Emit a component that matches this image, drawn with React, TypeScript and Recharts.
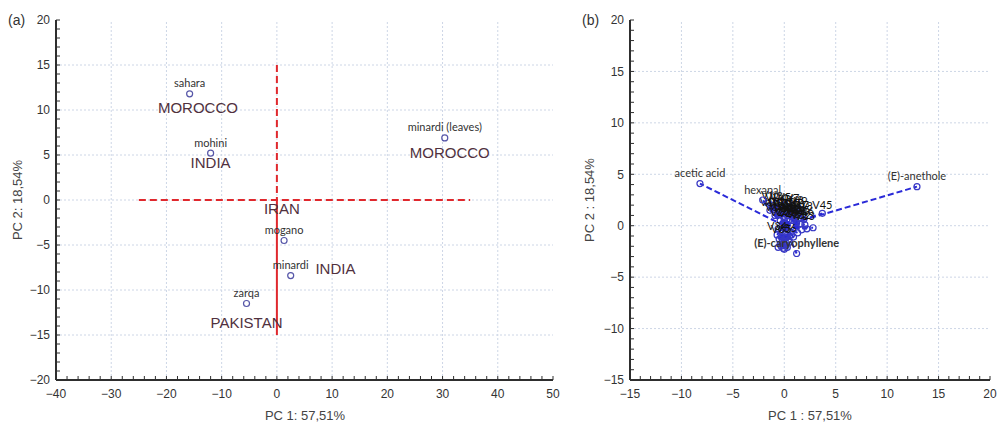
import React from 'react';
import { ScatterChart, Scatter, XAxis, YAxis, ReferenceLine } from 'recharts';

// ---------- Panel (a): PCA scores ----------
const scoreNames = ['sahara', 'mohini', 'minardi (leaves)', 'mogano', 'minardi', 'zarqa'];
const scorePC1 = [-15.8, -12.0, 30.4, 1.3, 2.5, -5.5];
const scorePC2 = [11.8, 5.2, 6.9, -4.5, -8.4, -11.5];

const countryNames = ['MOROCCO', 'INDIA', 'MOROCCO', 'IRAN', 'INDIA', 'PAKISTAN'];
const countryPC1 = [-14.3, -12.0, 31.3, 0.9, 10.6, -5.5];
const countryPC2 = [10.3, 4.2, 5.3, -0.9, -7.6, -13.6];

const aTicksX = [-40, -30, -20, -10, 0, 10, 20, 30, 40, 50];
const aTicksY = [-20, -15, -10, -5, 0, 5, 10, 15, 20];

// ---------- Panel (b): PCA loadings ----------
const loadingNames = ['acetic acid', '(E)-anethole', 'hexanal', '(E)-caryophyllene'];
const loadingPC1 = [-8.2, 12.9, -2.1, 1.2];
const loadingPC2 = [4.1, 3.8, 2.5, -2.7];

// labelled variables of the dense cluster (labels overlap as in the original)
const clusterNames = [
  'V1', 'V2', 'V3', 'V4', 'V5', 'V6', 'V7', 'V8', 'V9', 'V10',
  'V11', 'V12', 'V13', 'V14', 'V15', 'V16', 'V17', 'V18', 'V19', 'V20',
  'V21', 'V22', 'V23', 'V24', 'V25', 'V26', 'V27', 'V28', 'V29', 'V30',
  'V31', 'V32', 'V33', 'V34', 'V35', 'V36', 'V45',
];
const clusterPC1 = [
  -1.6, -1.2, -0.8, -0.4, 0.0, 0.4, 0.8, 1.2, 1.6, -1.4,
  -1.0, -0.6, -0.2, 0.2, 0.6, 1.0, 1.4, 1.8, -0.9, -0.5,
  -0.1, 0.3, 0.7, 1.1, 1.5, 1.9, -0.4, 0.0, 0.4, 0.8,
  1.2, 1.6, 2.0, -0.7, -0.3, 0.2, 3.7,
];
const clusterPC2 = [
  2.2, 2.0, 2.1, 1.9, 2.0, 1.8, 1.9, 1.7, 1.6, 1.5,
  1.6, 1.4, 1.5, 1.3, 1.4, 1.3, 1.2, 1.1, 1.0, 1.1,
  0.9, 1.0, 0.9, 0.8, 0.7, 0.6, 0.5, 0.6, 0.4, 0.5,
  0.3, 0.2, 0.1, -0.9, -1.1, -1.0, 1.2,
];

// unlabelled variables near the origin (lower part of the fan)
const lowerPC1 = [
  -0.6, -0.3, 0.0, 0.3, 0.6, -0.5, -0.2, 0.1, 0.4, 0.7,
  -0.4, -0.1, 0.2, 0.5, 0.9, 1.3, 1.7, 2.2, 2.8, -0.3,
  0.0, 0.3, -0.6, -0.1, 0.2,
];
const lowerPC2 = [
  -0.3, -0.5, -0.2, -0.4, -0.6, -1.3, -1.5, -1.2, -1.4, -0.9,
  -1.8, -1.9, -1.7, -1.6, -1.1, -0.7, -0.4, -0.3, -0.2, -2.0,
  -2.3, -2.1, -2.1, -2.2, -1.9,
];

const bTicksX = [-15, -10, -5, 0, 5, 10, 15, 20];
const bTicksY = [-15, -10, -5, 0, 5, 10, 15, 20];

// ---------- helpers ----------
const range = (lo: number, hi: number, step: number) => {
  const r: number[] = [];
  for (let v = lo; v <= hi + 1e-9; v += step) r.push(Math.round(v * 1000) / 1000);
  return r;
};
const fmt = (major: number[]) => (v: number) =>
  major.includes(v) ? (v < 0 ? '\u2212' + Math.abs(v) : String(v)) : '';

const scoreData = scoreNames.map((name, i) => ({ name, x: scorePC1[i], y: scorePC2[i] }));
const countryData = countryNames.map((name, i) => ({ name, x: countryPC1[i], y: countryPC2[i] }));
const loadingData = loadingNames.map((name, i) => ({ name, x: loadingPC1[i], y: loadingPC2[i] }));
const clusterData = clusterNames.map((name, i) => ({ name, x: clusterPC1[i], y: clusterPC2[i] }));
const lowerData = lowerPC1.map((x, i) => ({ name: '', x, y: lowerPC2[i] }));
const allLoadings = [...lowerData, ...clusterData, ...loadingData];

const TICK_FONT = { fontFamily: 'Liberation Sans, Arial, sans-serif', fontSize: 12, fill: '#333' };
const LABEL_FONT = 'Lato, "Open Sans", sans-serif';
const FRAME = '#2e2e2e';
const GRID = '#cdd6e6';

const ScorePoint = (props: any) => {
  const { cx, cy, payload } = props;
  return (
    <g>
      <circle cx={cx} cy={cy} r={3} fill="none" stroke="#5656a8" strokeWidth={1.2} />
      <text x={cx} y={cy - 11} textAnchor="middle" dominantBaseline="central"
        fontFamily={LABEL_FONT} fontSize={11} fill="#333">{payload.name}</text>
    </g>
  );
};

const CountryLabel = (props: any) => {
  const { cx, cy, payload } = props;
  return (
    <text x={cx} y={cy} textAnchor="middle" dominantBaseline="central"
      fontFamily="Liberation Sans, Arial, sans-serif" fontSize={15} fill="#50313e">{payload.name}</text>
  );
};

const LoadingPoint = (props: any) => {
  const { cx, cy, payload } = props;
  const bold = payload.name === '(E)-caryophyllene';
  return (
    <g>
      <circle cx={cx} cy={cy} r={3} fill="none" stroke="#3838c4" strokeWidth={1.2} />
      <text x={cx} y={cy - 11} textAnchor="middle" dominantBaseline="central"
        fontFamily={LABEL_FONT} fontSize={11} fontWeight={bold ? 700 : 400} fill="#333">{payload.name}</text>
    </g>
  );
};

const ClusterPoint = (props: any) => {
  const { cx, cy, payload } = props;
  return (
    <g>
      <circle cx={cx} cy={cy} r={3} fill="none" stroke="#3838c4" strokeWidth={1.2} />
      {payload.name ? (
        <text x={cx} y={cy - 9} textAnchor="middle" dominantBaseline="central"
          fontFamily={LABEL_FONT} fontSize={11} fill="#111">{payload.name}</text>
      ) : null}
    </g>
  );
};

const textDiv = (text: string, left: number, top: number, extra: React.CSSProperties = {}) => (
  <div style={{
    position: 'absolute', left, top, fontFamily: 'Liberation Sans, Arial, sans-serif',
    fontSize: 13, color: '#444', whiteSpace: 'nowrap', lineHeight: '16px', ...extra,
  }}>{text}</div>
);

export default function App() {
  const aMinorX = range(-40, 50, 2);
  const aMinorY = range(-20, 20, 1);
  const bMinorX = range(-15, 20, 1);
  const bMinorY = range(-15, 20, 1);
  const axisLine = { stroke: FRAME, strokeWidth: 2 };

  return (
    <div style={{ position: 'absolute', left: 0, top: 0, width: 997, height: 423, background: '#fff' }}>
      {/* Panel (a) */}
      <div style={{ position: 'absolute', left: 0, top: 0 }}>
        <ScatterChart width={560} height={423} margin={{ top: 20, right: 7, bottom: 0, left: 0 }}>
          <XAxis type="number" dataKey="x" domain={[-40, 50]} ticks={aMinorX} interval={0}
            tickFormatter={fmt(aTicksX)} tickSize={-4} tickMargin={13} height={43}
            tick={TICK_FONT} tickLine={{ stroke: FRAME }} axisLine={axisLine} allowDataOverflow />
          <YAxis type="number" dataKey="y" domain={[-20, 20]} ticks={aMinorY} interval={0}
            tickFormatter={fmt(aTicksY)} tickSize={-4} tickMargin={10} width={56}
            tick={TICK_FONT} tickLine={{ stroke: FRAME }} axisLine={axisLine} allowDataOverflow />
          <XAxis xAxisId="top" orientation="top" type="number" domain={[-40, 50]} ticks={aMinorX} interval={0}
            tick={false} tickSize={-4} height={0} tickLine={{ stroke: FRAME }} axisLine={axisLine} allowDataOverflow />
          <YAxis yAxisId="right" orientation="right" type="number" domain={[-20, 20]} ticks={aMinorY} interval={0}
            tick={false} tickSize={-4} width={0} tickLine={{ stroke: FRAME }} axisLine={axisLine} allowDataOverflow />
          {aTicksX.slice(1, -1).map((v) => (
            <ReferenceLine key={'ax' + v} x={v} stroke={GRID} strokeDasharray="2 2" />
          ))}
          {aTicksY.slice(1, -1).map((v) => (
            <ReferenceLine key={'ay' + v} y={v} stroke={GRID} strokeDasharray="2 2" />
          ))}
          <ReferenceLine segment={[{ x: -25, y: 0 }, { x: 35, y: 0 }]} stroke="#e0282d" strokeWidth={2} strokeDasharray="7 4" />
          <ReferenceLine segment={[{ x: 0, y: 15 }, { x: 0, y: 0 }]} stroke="#e0282d" strokeWidth={2} strokeDasharray="7 4" />
          <ReferenceLine segment={[{ x: 0, y: 0 }, { x: 0, y: -15 }]} stroke="#e0282d" strokeWidth={2} />
          <Scatter data={countryData} shape={CountryLabel} isAnimationActive={false} />
          <Scatter data={scoreData} shape={ScorePoint} isAnimationActive={false} />
        </ScatterChart>
      </div>

      {/* Panel (b) */}
      <div style={{ position: 'absolute', left: 560, top: 0 }}>
        <ScatterChart width={437} height={423} margin={{ top: 20, right: 7, bottom: 0, left: 0 }}>
          <XAxis type="number" dataKey="x" domain={[-15, 20]} ticks={bMinorX} interval={0}
            tickFormatter={fmt(bTicksX)} tickSize={-4} tickMargin={13} height={43}
            tick={TICK_FONT} tickLine={{ stroke: FRAME }} axisLine={axisLine} allowDataOverflow />
          <YAxis type="number" dataKey="y" domain={[-15, 20]} ticks={bMinorY} interval={0}
            tickFormatter={fmt(bTicksY)} tickSize={-4} tickMargin={10} width={70}
            tick={TICK_FONT} tickLine={{ stroke: FRAME }} axisLine={axisLine} allowDataOverflow />
          <XAxis xAxisId="top" orientation="top" type="number" domain={[-15, 20]} ticks={bMinorX} interval={0}
            tick={false} tickSize={-4} height={0} tickLine={{ stroke: FRAME }} axisLine={axisLine} allowDataOverflow />
          <YAxis yAxisId="right" orientation="right" type="number" domain={[-15, 20]} ticks={bMinorY} interval={0}
            tick={false} tickSize={-4} width={0} tickLine={{ stroke: FRAME }} axisLine={axisLine} allowDataOverflow />
          {bTicksX.slice(1, -1).map((v) => (
            <ReferenceLine key={'bx' + v} x={v} stroke={GRID} strokeDasharray="2 2" />
          ))}
          {bTicksY.slice(1, -1).map((v) => (
            <ReferenceLine key={'by' + v} y={v} stroke={GRID} strokeDasharray="2 2" />
          ))}
          {allLoadings.map((d, i) => (
            <ReferenceLine key={'v' + i} segment={[{ x: 0, y: 0 }, { x: d.x, y: d.y }]}
              stroke="#2a2ad8" strokeWidth={2} strokeDasharray="6 3" />
          ))}
          <Scatter data={lowerData} shape={ClusterPoint} isAnimationActive={false} />
          <Scatter data={clusterData} shape={ClusterPoint} isAnimationActive={false} />
          <Scatter data={loadingData} shape={LoadingPoint} isAnimationActive={false} />
        </ScatterChart>
      </div>

      {textDiv('(a)', 8, 12, { fontSize: 14, color: '#333' })}
      {textDiv('(b)', 582, 12, { fontSize: 14, color: '#333' })}
      {textDiv('PC 1: 57,51%', 305, 408, { transform: 'translateX(-50%)' })}
      {textDiv('PC 1 : 57,51%', 810, 408, { transform: 'translateX(-50%)' })}
      {textDiv('PC 2: 18,54%', 18, 200, { transform: 'translate(-50%, -50%) rotate(-90deg)' })}
      {textDiv('PC 2 : 18,54%', 590, 200, { transform: 'translate(-50%, -50%) rotate(-90deg)' })}
    </div>
  );
}
